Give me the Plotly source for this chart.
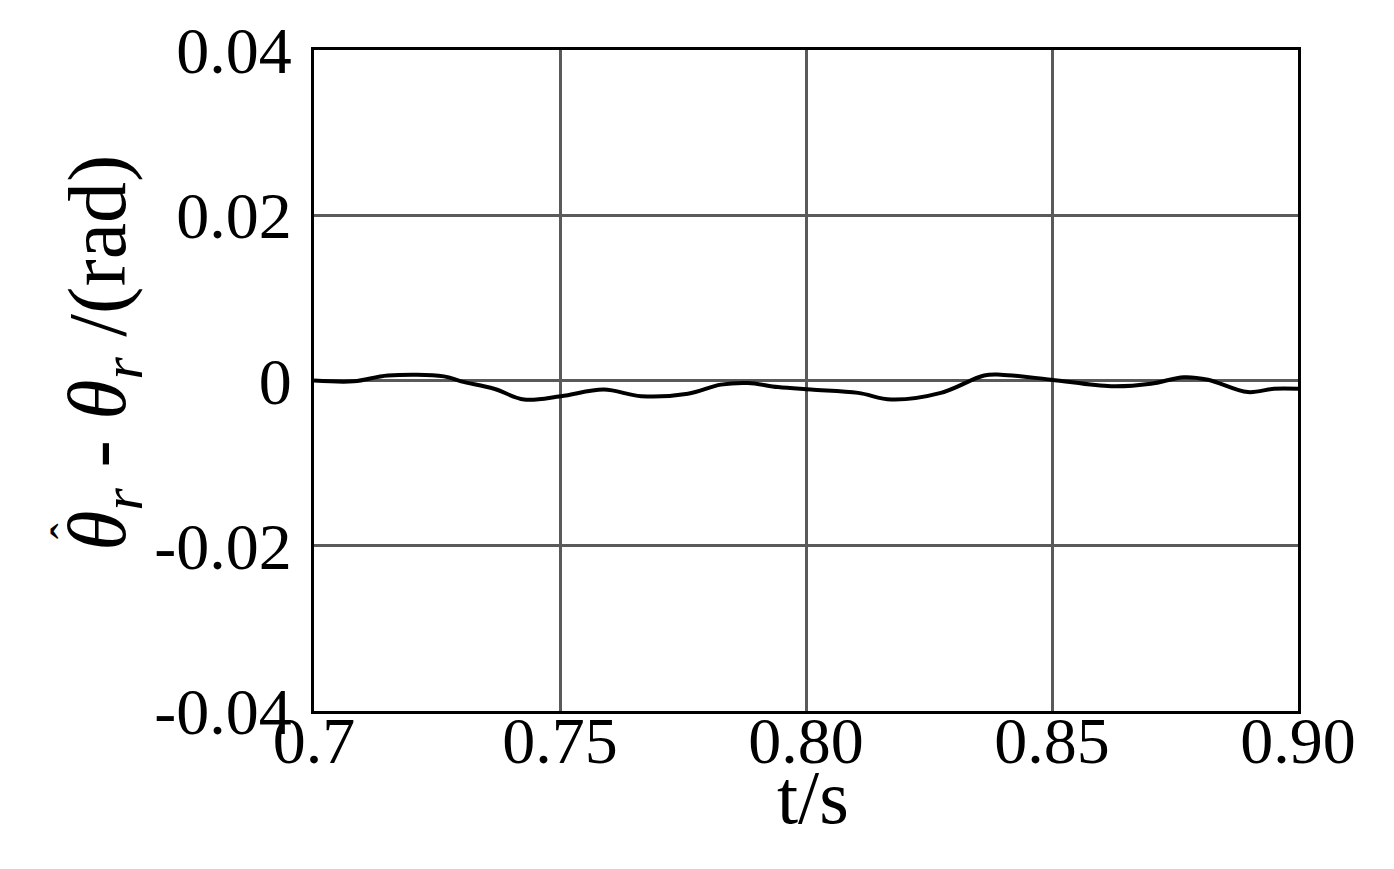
import plotly.graph_objects as go

t = [0.7, 0.7081, 0.7150, 0.7264, 0.7299, 0.7366, 0.7427, 0.7502, 0.7589, 0.7665,
     0.7760, 0.7827, 0.7882, 0.7943, 0.8010, 0.8106, 0.8173, 0.8274, 0.8362, 0.8396,
     0.8498, 0.8620, 0.8701, 0.8768, 0.8817, 0.8898, 0.8951, 0.9]
err = [0.0, -0.0001, 0.0006, 0.0005, -0.0001, -0.0010, -0.0023, -0.0019, -0.0011, -0.0019,
       -0.0016, -0.0005, -0.0003, -0.0008, -0.0011, -0.0015, -0.0023, -0.0015, 0.0006, 0.0007,
       0.0001, -0.0007, -0.0004, 0.0004, 0.0001, -0.0014, -0.0010, -0.0010]

x_ticks = [0.7, 0.75, 0.80, 0.85, 0.90]
x_labels = ["0.7", "0.75", "0.80", "0.85", "0.90"]
y_ticks = [-0.04, -0.02, 0, 0.02, 0.04]
y_labels = ["-0.04", "-0.02", "0", "0.02", "0.04"]

fnt = "Liberation Serif, Times New Roman, serif"

fig = go.Figure()
fig.add_trace(go.Scatter(x=t, y=err, mode="lines", line=dict(color="black", width=4, shape="spline"),
                         showlegend=False))

# page body has a small margin, so the figure is shrunk to fit the window
fig.update_layout(
    width=1386, height=861,
    paper_bgcolor="white", plot_bgcolor="white",
    margin=dict(l=306, r=96, t=42, b=158),
    font=dict(family=fnt, size=66, color="black"),
)
fig.update_xaxes(
    range=[0.7, 0.9], tickvals=x_ticks, ticktext=x_labels,
    showgrid=True, gridcolor="#5a5a5a", gridwidth=3,
    showline=True, linecolor="black", linewidth=3, mirror=True,
    ticks="", zeroline=False, ticklabelstandoff=-30, automargin=False,
)
fig.update_yaxes(
    range=[-0.04, 0.04], tickvals=y_ticks, ticktext=y_labels,
    showgrid=True, gridcolor="#5a5a5a", gridwidth=3,
    showline=True, linecolor="black", linewidth=3, mirror=True,
    ticks="", zeroline=False, ticklabelstandoff=6, automargin=False,
)

# axis titles
fig.add_annotation(text="t/s", xref="paper", yref="paper", x=0.507, y=0,
                   yshift=-86, showarrow=False, font=dict(size=76),
                   xanchor="center", yanchor="middle")
fig.add_annotation(
    text="<i>θ<sub>r</sub></i> - <i>θ<sub>r</sub></i> /(rad)",
    xref="paper", yref="paper", x=0, y=0.542, xshift=-211, textangle=-90,
    showarrow=False, font=dict(size=82), xanchor="center", yanchor="middle")
# hat over the first theta
fig.add_annotation(text="ˆ", xref="paper", yref="paper", x=0, y=0.272, xshift=-246,
                   textangle=-90, showarrow=False, font=dict(size=48),
                   xanchor="center", yanchor="middle")

fig.write_html("out.html")
